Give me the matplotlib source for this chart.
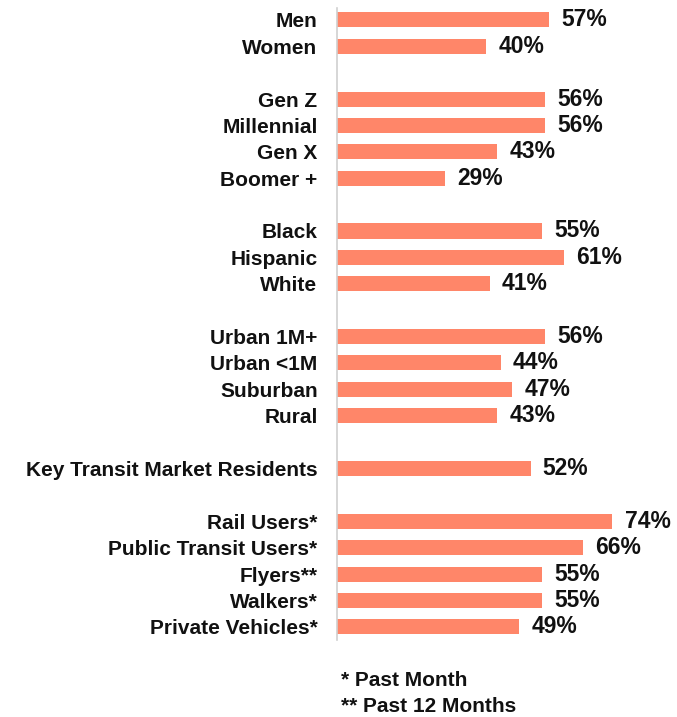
import matplotlib
matplotlib.use("Agg")
import matplotlib.pyplot as plt

categories = [
    "Men", "Women",
    "Gen Z", "Millennial", "Gen X", "Boomer +",
    "Black", "Hispanic", "White",
    "Urban 1M+", "Urban <1M", "Suburban", "Rural",
    "Key Transit Market Residents",
    "Rail Users*", "Public Transit Users*", "Flyers**", "Walkers*", "Private Vehicles*",
]
values = [57, 40, 56, 56, 43, 29, 55, 61, 41, 56, 44, 47, 43, 52, 74, 66, 55, 55, 49]
# group sizes; a blank row separates consecutive groups
groups = [2, 4, 3, 4, 1, 5]
footnotes = ["* Past Month", "** Past 12 Months"]

bar_color = "#FF8669"
plt.rcParams["font.family"] = ["Liberation Sans", "DejaVu Sans"]

positions = []
row = 0
for g in groups:
    for _ in range(g):
        positions.append(row)
        row += 1
    row += 1

fig = plt.figure(figsize=(6.77, 7.17), dpi=100)
ax = fig.add_axes([337 / 677, 1 - 640 / 717, 335 / 677, 632 / 717])

ax.barh(positions, values, height=0.57, color=bar_color)
ax.set_xlim(0, 90)
ax.set_ylim(23.5, -0.45)

ax.set_yticks(positions)
ax.set_yticklabels(categories, fontsize=15, fontweight="bold", color="#111111")
ax.tick_params(axis="y", length=0, pad=14)
ax.set_xticks([])
for side in ["top", "right", "bottom"]:
    ax.spines[side].set_visible(False)
ax.spines["left"].set_color("#D0D0D0")
ax.spines["left"].set_linewidth(1.2)

for p, v in zip(positions, values):
    ax.text(v + 3.3, p, f"{v}%", va="center", ha="left",
            fontsize=16.5, fontweight="bold", color="#111111")

for i, note in enumerate(footnotes):
    fig.text(341 / 677, 1 - (681 + 25 * i) / 717, note, ha="left", va="center",
             fontsize=15, fontweight="bold", color="#111111")

fig.savefig("out.png", dpi=100)
